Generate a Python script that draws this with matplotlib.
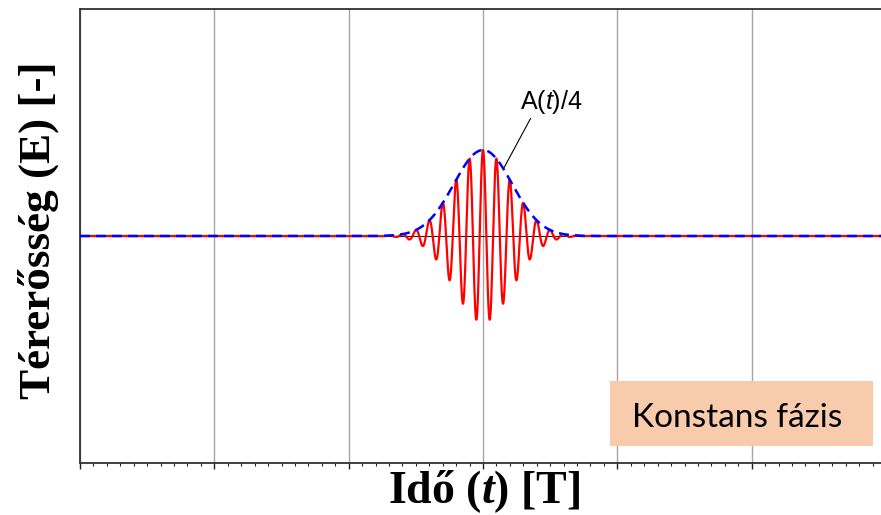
import numpy as np
import matplotlib
matplotlib.use("Agg")
import matplotlib.pyplot as plt
from matplotlib.patches import Rectangle
from matplotlib.ticker import MultipleLocator, NullFormatter

plt.rcParams['mathtext.fontset'] = 'custom'
plt.rcParams['mathtext.rm'] = 'Liberation Sans'
plt.rcParams['mathtext.it'] = 'Liberation Sans:italic'
plt.rcParams['mathtext.bfit'] = 'Liberation Serif:italic:bold'

# pulse (time in carrier periods T, field in units of A(t)/4 peak)
envelope_peak = 1.0
pulse_center = 0.0
pulse_fwhm = 5.1
carrier_period = 1.0
time_limits = [-30.0, 30.0]
field_limits = [-2.64, 2.64]
grid_step = 10

t = np.linspace(time_limits[0], time_limits[1], 6000)
sigma = pulse_fwhm / (2 * np.sqrt(2 * np.log(2)))
envelope = envelope_peak * np.exp(-(t - pulse_center) ** 2 / (2 * sigma ** 2))
field = envelope * np.cos(2 * np.pi * (t - pulse_center) / carrier_period)

fig = plt.figure(figsize=(8.81, 5.15), dpi=100)
ax = fig.add_axes([80 / 881, 1 - 463 / 515, 806 / 881, 454 / 515])

ax.axhline(0, color='#202020', lw=0.8, zorder=1)
ax.plot(t, field, color='#ff0000', lw=1.6, zorder=2)
ax.plot(t, envelope, color='#0000ff', lw=1.8, dashes=(4, 2.4), zorder=3)

ax.set_xlim(time_limits)
ax.set_ylim(field_limits)
ax.xaxis.set_major_locator(MultipleLocator(grid_step))
ax.xaxis.set_minor_locator(MultipleLocator(carrier_period))
ax.xaxis.set_major_formatter(NullFormatter())
ax.set_yticks([])
ax.tick_params(axis='x', which='major', direction='out', length=4, width=1, color='#202020')
ax.tick_params(axis='x', which='minor', direction='out', length=2.5, width=0.8, color='#202020')
ax.grid(axis='x', which='major', color='#a6a6a6', lw=1)
ax.set_axisbelow(True)
for s in ['left', 'bottom', 'top']:
    ax.spines[s].set_color('#303030')
    ax.spines[s].set_linewidth(1.3)

ax.annotate(r'A($\it{t}$)/4', xy=(1.55, 0.79), xytext=(2.72, 1.48),
            fontsize=18, family='Liberation Sans', ha='left', va='baseline',
            arrowprops=dict(arrowstyle='-', color='black', lw=0.8,
                            shrinkA=0, shrinkB=0, relpos=(0.2, 0)))

fig.text(38 / 881, 1 - 230 / 515, 'Térerősség (E) [-]', rotation=90,
         ha='center', va='center', fontsize=32.5, fontweight='bold',
         family='Liberation Serif')
fig.text(484 / 881, 1 - 503 / 515, r'Idő ($\mathbfit{t}$) [T]',
         ha='center', va='baseline', fontsize=33, fontweight='bold',
         family='Liberation Serif')

fig.patches.append(Rectangle((610 / 881, 1 - 446 / 515), 263 / 881, 65 / 515,
                             transform=fig.transFigure, facecolor='#f8cbad',
                             edgecolor='none', zorder=5))
fig.text(632 / 881, 1 - 427 / 515, 'Konstans fázis', ha='left', va='baseline',
         fontsize=24, family='Lato', zorder=6)

fig.savefig('out.png', dpi=100)
